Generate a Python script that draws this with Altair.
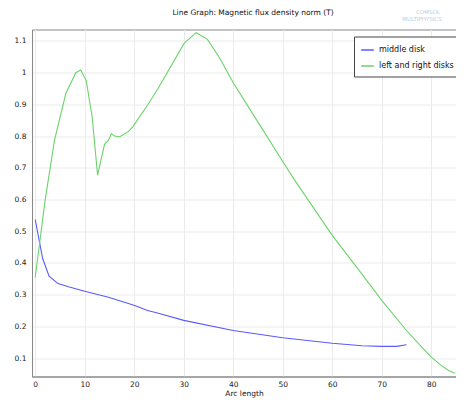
import altair as alt
import pandas as pd

# Middle disk
mid_x = [0, 0.8, 1.5, 2.8, 4.6, 6.9, 10, 14.8, 20.1, 22.7, 24.7, 30, 40, 50, 60, 66, 70, 73, 75]
mid_y = [0.537, 0.471, 0.414, 0.358, 0.335, 0.324, 0.311, 0.292, 0.266, 0.250, 0.242, 0.219, 0.187, 0.164, 0.147, 0.139, 0.137, 0.137, 0.142]

# Left and right disks
lr_x = [0, 2, 3.9, 6.2, 8.2, 9.2, 10.3, 11.5, 12.6, 14.0, 14.8, 15.4, 16.0, 17.1, 18.8, 19.7, 22.7, 24.7, 30.1, 32.5, 34.8, 37.1, 40, 45, 50, 52.4, 60, 65, 70, 75, 78, 80, 82, 83.5, 84.8]
lr_y = [0.354, 0.598, 0.787, 0.935, 1.0, 1.008, 0.975, 0.861, 0.677, 0.774, 0.787, 0.808, 0.800, 0.798, 0.814, 0.829, 0.898, 0.947, 1.093, 1.126, 1.105, 1.05, 0.968, 0.844, 0.72, 0.661, 0.487, 0.385, 0.282, 0.187, 0.136, 0.103, 0.077, 0.061, 0.052]

series_names = ["middle disk", "left and right disks"]
series_colors = ["#5a5aff", "#6ad36a"]

x_ticks = [0, 10, 20, 30, 40, 50, 60, 70, 80]
y_ticks = [0.1, 0.2, 0.3, 0.4, 0.5, 0.6, 0.7, 0.8, 0.9, 1.0, 1.1]

title_text = "Line Graph: Magnetic flux density norm (T)"
logo_texts = ["COMSOL", "MULTIPHYSICS"]

rows = []
for i, (xx, yy) in enumerate(zip(mid_x, mid_y)):
    rows.append({"s": series_names[0], "x": xx, "y": yy, "o": i})
for i, (xx, yy) in enumerate(zip(lr_x, lr_y)):
    rows.append({"s": series_names[1], "x": xx, "y": yy, "o": i})
df = pd.DataFrame(rows)

FONT = "DejaVu Sans"

lines = alt.Chart(df).mark_line(strokeWidth=1.1, clip=True).encode(
    x=alt.X("x:Q", scale=alt.Scale(domain=[-0.65, 85], nice=False, zero=False),
            axis=alt.Axis(values=x_ticks, title="Arc length", format="d", ticks=False,
                          labelPadding=4, titlePadding=1, grid=True)),
    y=alt.Y("y:Q", scale=alt.Scale(domain=[0.042, 1.136], nice=False, zero=False),
            axis=alt.Axis(values=y_ticks, title=None, format="~g", ticks=False,
                          labelPadding=6, grid=True)),
    color=alt.Color("s:N", scale=alt.Scale(domain=series_names, range=series_colors),
                    legend=alt.Legend(title=None, orient="none", legendX=322, legendY=7,
                                      symbolType="stroke", symbolSize=160, symbolStrokeWidth=1.5,
                                      labelFontSize=8, labelFont=FONT, rowPadding=4,
                                      padding=6, strokeColor="#444", fillColor="white",
                                      cornerRadius=0, labelColor="#111")),
    order="o:Q",
)

title = alt.Chart(pd.DataFrame({"t": [title_text]})).mark_text(
    font=FONT, fontSize=7.5, color="#111", align="center", baseline="top"
).encode(text="t:N", x=alt.value(221), y=alt.value(-21))

logo1 = alt.Chart(pd.DataFrame({"t": [logo_texts[0]]})).mark_text(
    font=FONT, fontSize=5.5, color="#b8cde3", align="center", baseline="middle"
).encode(text="t:N", x=alt.value(396), y=alt.value(-18))
logo2 = alt.Chart(pd.DataFrame({"t": [logo_texts[1]]})).mark_text(
    font=FONT, fontSize=5.5, color="#b8cde3", align="center", baseline="middle"
).encode(text="t:N", x=alt.value(390), y=alt.value(-11))

chart = alt.layer(lines, title, logo1, logo2).properties(
    width=424, height=347,
    autosize=alt.AutoSizeParams(type="none"),
    padding={"left": 24, "top": 21.5, "right": 0, "bottom": 22},
).configure_view(stroke="#888", strokeWidth=1).configure_axis(
    labelFont=FONT, labelFontSize=7.5, labelColor="#222", titleFont=FONT, titleFontSize=7.5,
    titleFontWeight="normal", titleColor="#111", gridColor="#ebebeb", domainColor="#888",
)

chart.save("out.html", embed_options={"renderer": "svg", "actions": False})
